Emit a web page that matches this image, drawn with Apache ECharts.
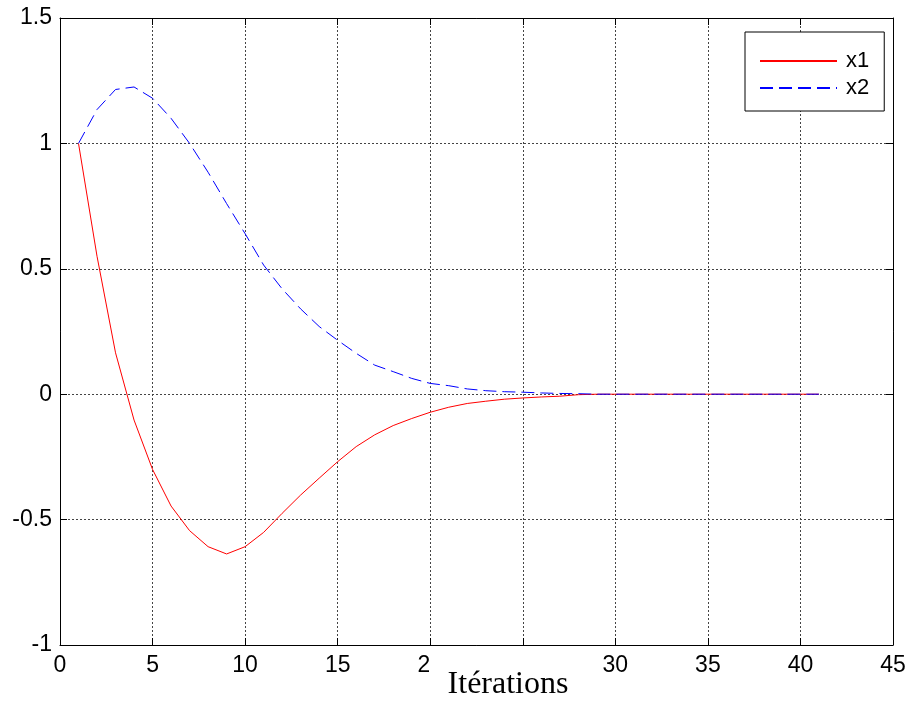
<!DOCTYPE html>
<html>
<head>
<meta charset="utf-8">
<script src="https://cdn.jsdelivr.net/npm/echarts@6/dist/echarts.min.js"></script>
<style>html,body{margin:0;padding:0;background:#fff;}#chart{width:915px;height:702px;}</style>
</head>
<body>
<div id="chart"></div>
<script>
const iterations = [1,2,3,4,5,6,7,8,9,10,11,12,13,14,15,16,17,18,19,20,21,22,23,24,25,26,27,28,29,30,31,32,33,34,35,36,37,38,39,40,41];
const x1Values = [1,0.55,0.165,-0.103,-0.30,-0.446,-0.544,-0.608,-0.637,-0.608,-0.551,-0.475,-0.402,-0.335,-0.269,-0.209,-0.162,-0.125,-0.097,-0.072,-0.052,-0.037,-0.028,-0.02,-0.015,-0.011,-0.008,-0.002,0,0,0,0,0,0,0,0,0,0,0,0,0];
const x2Values = [1,1.135,1.215,1.225,1.18,1.10,1.00,0.885,0.76,0.64,0.515,0.42,0.34,0.27,0.215,0.163,0.116,0.09,0.063,0.043,0.034,0.021,0.014,0.01,0.008,0.005,0.003,0.002,0,0,0,0,0,0,0,0,0,0,0,0,0];
const xTickLabels = ['0','5','10','15','20','25','30','35','40','45'];
const yTickLabels = {'-1':'-1','-0.5':'-0.5','0':'0','0.5':'0.5','1':'1','1.5':'1.5'};
const seriesNames = ['x1','x2'];
const xAxisTitle = 'Itérations';

const chart = echarts.init(document.getElementById('chart'), null, {renderer:'canvas'});
const labelFont = {fontFamily:'Liberation Sans', fontSize:23, color:'#000'};
const axisLineBlack = {show:true, onZero:false, lineStyle:{color:'#000', width:1}};
const tickIn = {show:true, inside:true, length:7, lineStyle:{color:'#000'}};
const gridDots = {show:true, lineStyle:{color:'#444', type:[2,2], width:1}};

chart.setOption({
  animation:false,
  backgroundColor:'#fff',
  grid:{left:60, right:22, top:18, bottom:57, containLabel:false},
  xAxis:[
    {type:'value', min:0, max:45, interval:5, position:'bottom',
     axisLine:axisLineBlack, axisTick:tickIn, splitLine:gridDots,
     axisLabel:Object.assign({margin:9, formatter:(v)=>xTickLabels[Math.round(v/5)]}, labelFont)},
    {type:'value', min:0, max:45, interval:5, position:'top',
     axisLine:axisLineBlack, axisTick:tickIn, splitLine:{show:false}, axisLabel:{show:false}}
  ],
  yAxis:[
    {type:'value', min:-1, max:1.5, interval:0.5, position:'left',
     axisLine:axisLineBlack, axisTick:tickIn, splitLine:gridDots,
     axisLabel:Object.assign({margin:8, formatter:(v)=>yTickLabels[String(Math.round(v*10)/10)]}, labelFont)},
    {type:'value', min:-1, max:1.5, interval:0.5, position:'right',
     axisLine:axisLineBlack, axisTick:tickIn, splitLine:{show:false}, axisLabel:{show:false}}
  ],
  legend:{
    orient:'vertical', left:745, top:32,
    borderColor:'#000', borderWidth:1, backgroundColor:'#fff',
    padding:[18,15,12,14],
    itemWidth:77, itemHeight:20, itemGap:5,
    itemStyle:{opacity:0},
    textStyle:{fontFamily:'Liberation Sans', fontSize:22, color:'#000', padding:[0,0,0,4]},
    data:seriesNames
  },
  series:[
    {name:seriesNames[0], type:'line', symbol:'none', z:3,
     lineStyle:{color:'#ff0000', width:1}, itemStyle:{color:'#ff0000'},
     data:iterations.map((n,i)=>[n, x1Values[i]])},
    {name:seriesNames[1], type:'line', symbol:'none', z:4,
     lineStyle:{color:'#0000ff', width:1, type:[13,6]}, itemStyle:{color:'#0000ff'},
     data:iterations.map((n,i)=>[n, x2Values[i]])}
  ],
  graphic:[
    {type:'rect', z:100, shape:{x:429, y:651, width:171, height:51}, style:{fill:'#fff'}},
    {type:'text', z:101, style:{text:xAxisTitle, x:508, y:685, textAlign:'center', textVerticalAlign:'middle',
      font:'32px "Liberation Serif"', fill:'#000'}}
  ]
});
</script>
</body>
</html>
